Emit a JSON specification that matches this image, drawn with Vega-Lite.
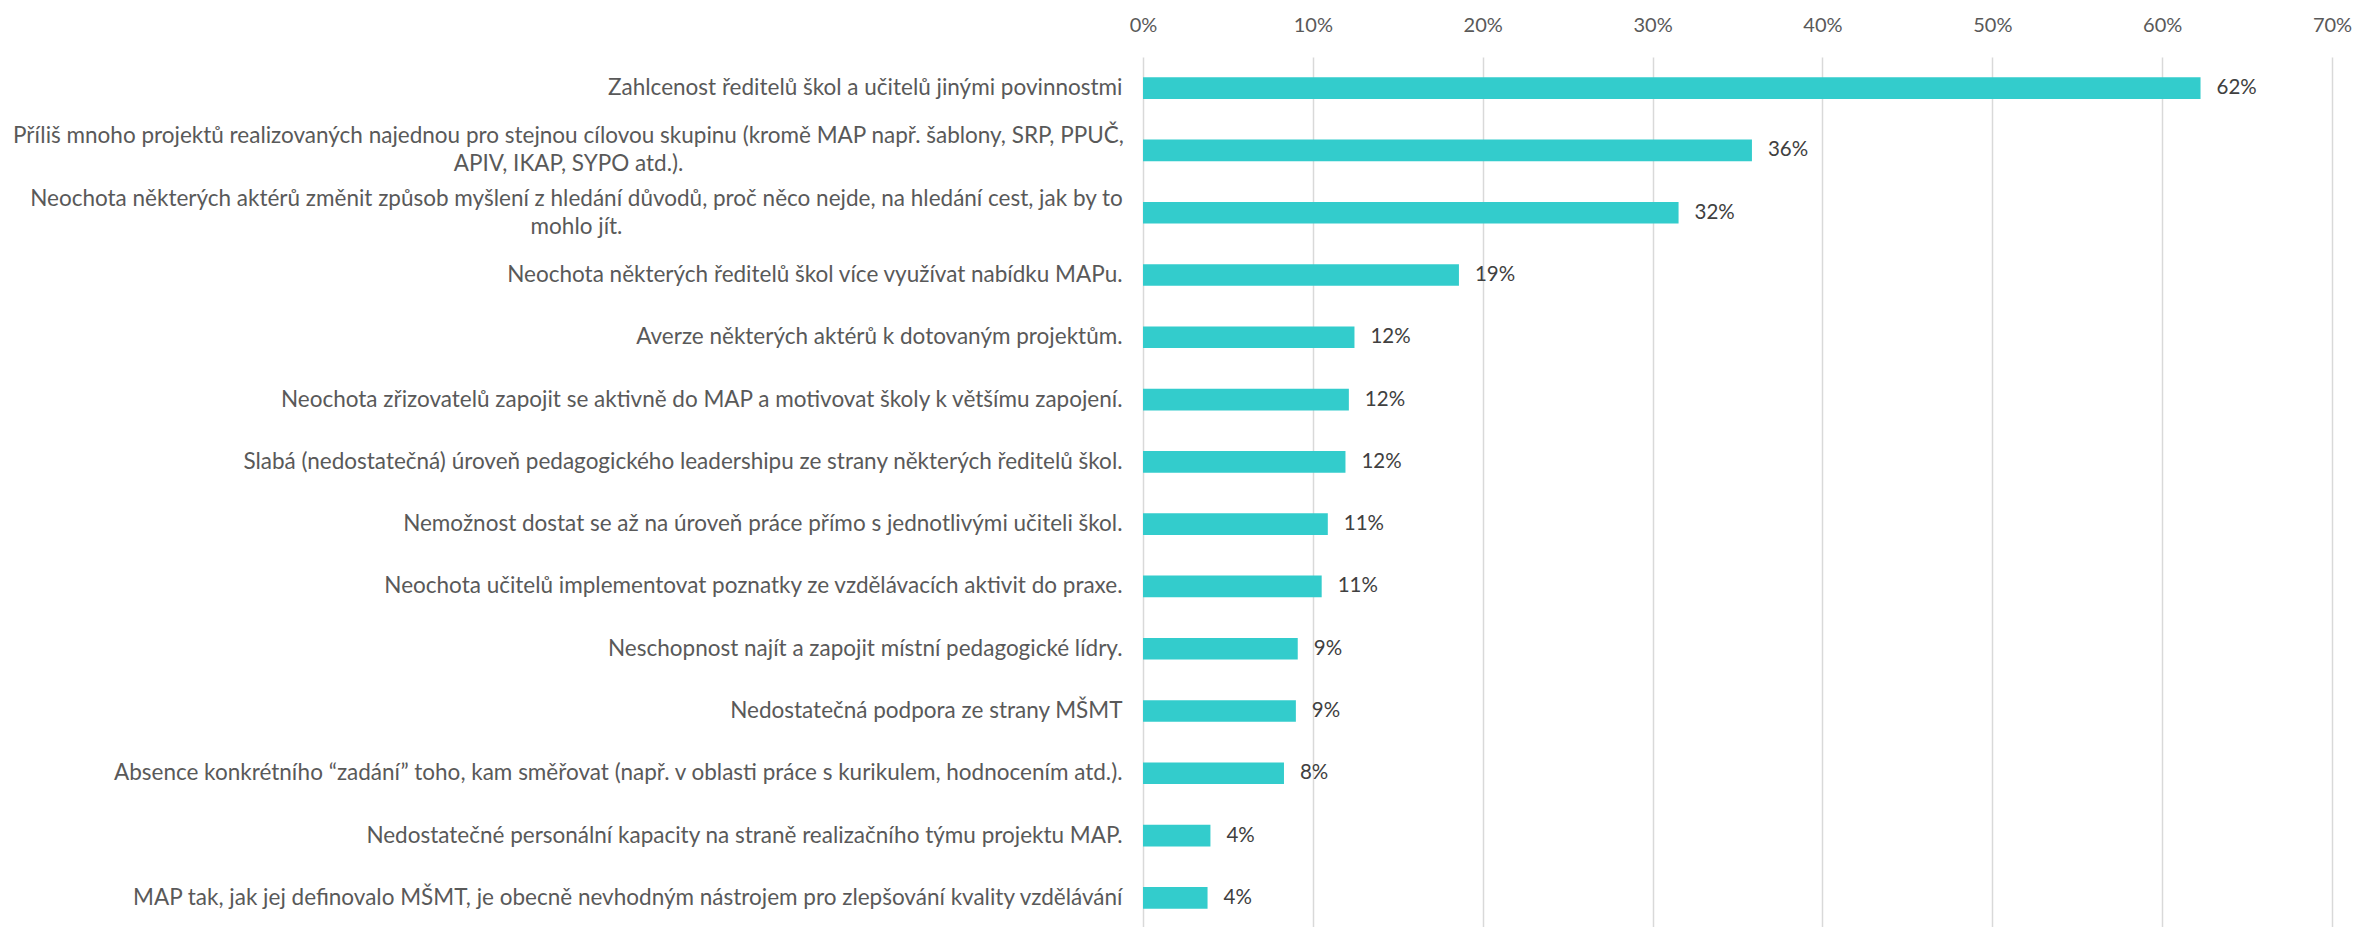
{
  "$schema": "https://vega.github.io/schema/vega-lite/v6.json",
  "autosize": "none",
  "width": 1189,
  "height": 872,
  "padding": {"left": 1143, "top": 57, "right": 21, "bottom": 0},
  "background": "white",
  "config": {"view": {"stroke": null}, "font": "Lato"},
  "data": {"values": [
    {"k": "Zahlcenost ředitelů škol a učitelů jinými povinnostmi", "v": 0.6226},
    {"k": "Příliš mnoho projektů realizovaných najednou pro stejnou cílovou skupinu (kromě MAP např. šablony, SRP, PPUČ,|APIV, IKAP, SYPO atd.).", "v": 0.3585},
    {"k": "Neochota některých aktérů změnit způsob myšlení z hledání důvodů, proč něco nejde, na hledání cest, jak by to|mohlo jít.", "v": 0.3153},
    {"k": "Neochota některých ředitelů škol více využívat nabídku MAPu.", "v": 0.186},
    {"k": "Averze některých aktérů k dotovaným projektům.", "v": 0.1245},
    {"k": "Neochota zřizovatelů zapojit se aktivně do MAP a motivovat školy k většímu zapojení.", "v": 0.1212},
    {"k": "Slabá (nedostatečná) úroveň pedagogického leadershipu ze strany některých ředitelů škol.", "v": 0.1192},
    {"k": "Nemožnost dostat se až na úroveň práce přímo s jednotlivými učiteli škol.", "v": 0.1088},
    {"k": "Neochota učitelů implementovat poznatky ze vzdělávacích aktivit do praxe.", "v": 0.1052},
    {"k": "Neschopnost najít a zapojit místní pedagogické lídry.", "v": 0.0911},
    {"k": "Nedostatečná podpora ze strany MŠMT", "v": 0.090},
    {"k": "Absence konkrétního “zadání” toho, kam směřovat (např. v oblasti práce s kurikulem, hodnocením atd.).", "v": 0.083},
    {"k": "Nedostatečné personální kapacity na straně realizačního týmu projektu MAP.", "v": 0.0397},
    {"k": "MAP tak, jak jej definovalo MŠMT, je obecně nevhodným nástrojem pro zlepšování kvality vzdělávání", "v": 0.038}
  ]},
  "encoding": {
    "y": {
      "field": "k", "type": "nominal", "sort": null,
      "scale": {"paddingInner": 0.652, "paddingOuter": 0.326},
      "axis": {
        "title": null, "ticks": false, "domain": false, "grid": false,
        "labelExpr": "split(datum.label, '|')",
        "labelFont": "Lato", "labelFontSize": 22.5, "labelColor": "#595959",
        "labelLimit": 0, "labelLineHeight": 28,
        "labelAlign": {"condition": {"test": "indexof(datum.value, '|') >= 0", "value": "center"}, "value": "right"},
        "labelOffset": {"condition": {"test": "indexof(datum.value, '|') >= 0", "value": -14}, "value": 0},
        "labelPadding": {"condition": [
          {"test": "indexof(datum.value, 'Příliš') == 0", "value": 575},
          {"test": "indexof(datum.value, '|mohlo') >= 0", "value": 567}
        ], "value": 21}
      }
    },
    "x": {
      "field": "v", "type": "quantitative",
      "scale": {"domain": [0, 0.7], "nice": false},
      "axis": {
        "orient": "top", "title": null, "format": ".0%", "values": [0, 0.1, 0.2, 0.3, 0.4, 0.5, 0.6, 0.7],
        "ticks": false, "domain": false, "grid": true, "gridColor": "#d9d9d9", "gridWidth": 1.5,
        "labelFont": "Lato", "labelFontSize": 20, "labelColor": "#595959", "labelPadding": 22,
        "labelFlush": false
      }
    }
  },
  "layer": [
    {"mark": {"type": "bar", "color": "#33CCCC"}},
    {"mark": {"type": "text", "align": "left", "baseline": "middle", "dx": 16, "font": "Lato", "fontSize": 20.5, "color": "#404040"},
     "encoding": {"text": {"field": "v", "type": "quantitative", "format": ".0%"}}}
  ]
}
